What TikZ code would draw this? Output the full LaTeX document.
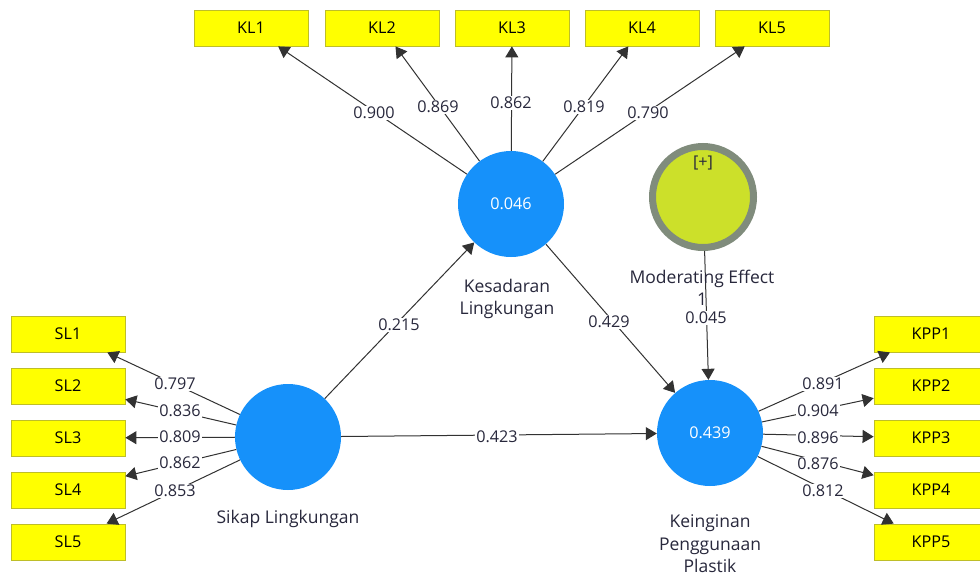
\documentclass[tikz,border=0pt]{standalone}
\usepackage{fontspec}
\setmainfont{Open Sans}
\usetikzlibrary{arrows.meta}
\definecolor{plsblue}{RGB}{22,145,250}
\definecolor{boxyellow}{RGB}{255,255,0}
\definecolor{boxedge}{RGB}{190,190,40}
\definecolor{modfill}{RGB}{204,224,42}
\definecolor{modedge}{RGB}{128,140,124}
\definecolor{edgecol}{RGB}{50,50,50}
\definecolor{txt}{RGB}{40,40,60}
\begin{document}
\begin{tikzpicture}[x=1pt,y=-1pt,
  every node/.style={font=\fontsize{16.2}{22}\selectfont, text=txt},
  lv/.style={circle, fill=plsblue, minimum size=106pt, inner sep=0pt, text=white},
  ind/.style={rectangle, fill=boxyellow, draw=boxedge, line width=0.8pt, minimum width=114pt, minimum height=36pt, inner sep=0pt, text=black},
  arr/.style={draw=edgecol, line width=1pt, -{Triangle[length=11pt,width=13pt]}},
  lbl/.style={fill=white, inner sep=1pt},
  captext/.style={align=center, inner sep=0pt, font=\fontsize{17.5}{22.5}\selectfont}]
\useasboundingbox (0,0) rectangle (980,576);
\fill[white] (0,0) rectangle (980,576);
% latent variables
\node[lv] (KL) at (511,204) {0.046};
\node[lv] (SL) at (288,437) {};
\node[lv] (KPP) at (710,433) {0.439};
\node[circle, fill=modfill, draw=modedge, line width=7pt, minimum size=101pt, inner sep=0pt] (MOD) at (703,197) {};
\node (plus) at (703,163) {[+]};
% indicators
\node[ind] (KL1) at (251,28) {KL1};
\node[ind] (KL2) at (382,28) {KL2};
\node[ind] (KL3) at (512,28) {KL3};
\node[ind] (KL4) at (642,28) {KL4};
\node[ind] (KL5) at (772,28) {KL5};
\node[ind] (SL1) at (68,334) {SL1};
\node[ind] (SL2) at (68,386) {SL2};
\node[ind] (SL3) at (68,438) {SL3};
\node[ind] (SL4) at (68,490) {SL4};
\node[ind] (SL5) at (68,542) {SL5};
\node[ind] (KPP1) at (931,334) {KPP1};
\node[ind] (KPP2) at (931,386) {KPP2};
\node[ind] (KPP3) at (931,438) {KPP3};
\node[ind] (KPP4) at (931,490) {KPP4};
\node[ind] (KPP5) at (931,542) {KPP5};
% outer loadings
\foreach \i in {1,...,5} {
  \draw[arr] (KL) -- (KL\i);
  \draw[arr] (SL) -- (SL\i);
  \draw[arr] (KPP) -- (KPP\i);
}
% structural paths
\draw[arr] (SL) -- (KL);
\draw[arr] (KL) -- (KPP);
\draw[arr] (SL) -- (KPP);
\draw[arr] (MOD) -- (KPP);
% captions
\node[captext] (capKL) at (507,299) {Kesadaran\\Lingkungan};
\node[captext] (capSL) at (288,519) {Sikap Lingkungan};
\node[captext] (capKPP) at (710,544) {Keinginan\\Penggunaan\\Plastik};
\node[captext] (capMOD) at (702,288) {Moderating Effect\\1};
% loading labels
\node[lbl] (l1) at (374,113) {0.900};
\node[lbl] (l2) at (438,107) {0.869};
\node[lbl] (l3) at (511,103) {0.862};
\node[lbl] (l4) at (584,107) {0.819};
\node[lbl] (l5) at (648,113) {0.790};
\node[lbl] (s1) at (175,384) {0.797};
\node[lbl] (s2) at (180,411) {0.836};
\node[lbl] (s3) at (180,437) {0.809};
\node[lbl] (s4) at (180,463) {0.862};
\node[lbl] (s5) at (175,491) {0.853};
\node[lbl] (k1) at (823,384) {0.891};
\node[lbl] (k2) at (818,411) {0.904};
\node[lbl] (k3) at (818,438) {0.896};
\node[lbl] (k4) at (818,464) {0.876};
\node[lbl] (k5) at (823,491) {0.812};
% path labels
\node[lbl] (p1) at (399,325) {0.215};
\node[lbl] (p2) at (609,322) {0.429};
\node[lbl] (p3) at (497,437) {0.423};
\node[lbl] (p4) at (706,318) {0.045};
\end{tikzpicture}
\end{document}
